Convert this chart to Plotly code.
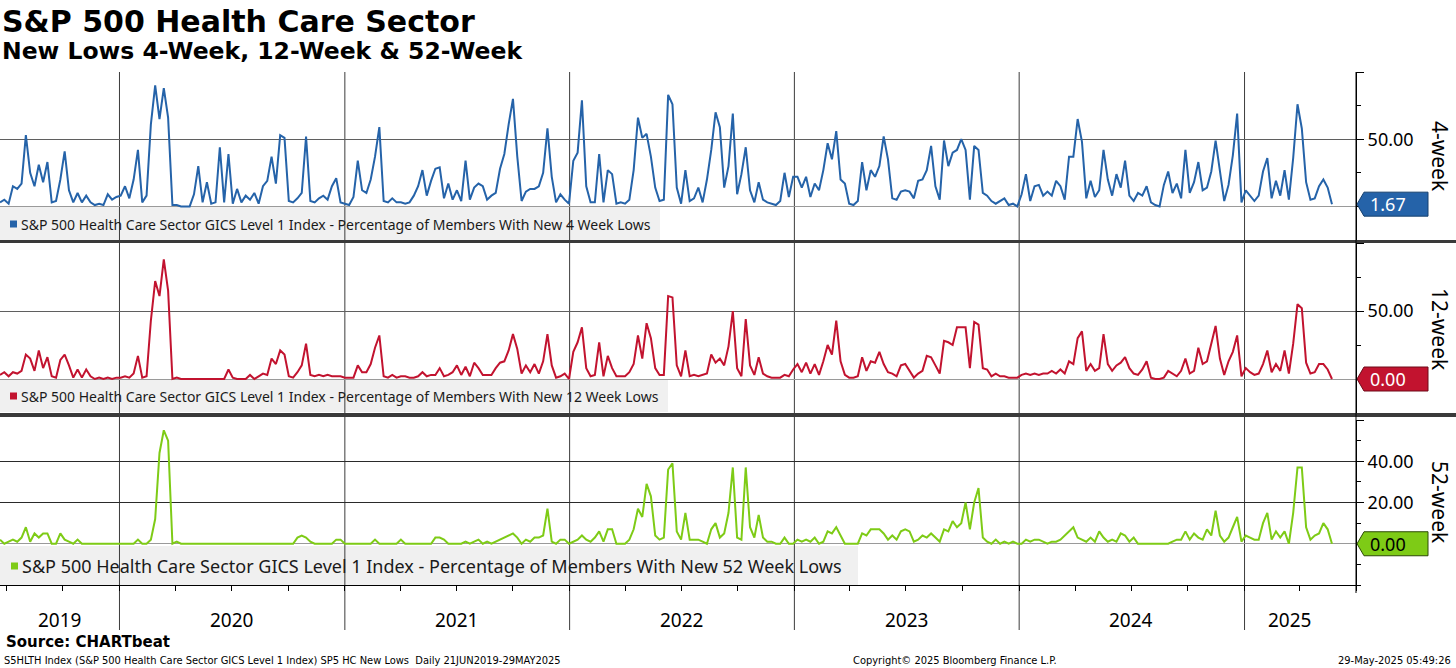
import pandas as pd
import plotly.graph_objects as go

W, H = 1456, 668

# ---------------- data ----------------
YEARS = ["2019", "2020", "2021", "2022", "2023", "2024", "2025"]
FIRST_WEEK = ["2019-06-21", "2020-01-03", "2021-01-01", "2022-01-07",
              "2023-01-06", "2024-01-05", "2025-01-03"]
YEAR_STARTS = ["2020-01-01", "2021-01-01", "2022-01-01", "2023-01-01",
               "2024-01-01", "2025-01-01"]
YEAR_LABEL_AT = ["2019-09-25", "2020-07-01", "2021-07-02", "2022-07-02",
                 "2023-07-02", "2024-07-01", "2025-03-15"]
X_RANGE = ["2019-06-21", "2025-07-01"]

# 4-week new lows (% of members), weekly readings
w4_2019 = [3, 5, 2, 15, 13, 17, 53, 25, 15, 31, 18, 33, 3, 4, 20, 41, 12, 3, 10, 3,
           8, 3, 1, 2, 1, 9, 5, 7]
w4_2020 = [8, 15, 6, 20, 42, 3, 8, 61, 90, 65, 88, 66, 1, 1, 0, 0, 0, 9, 30, 3,
           18, 2, 3, 44, 3, 39, 2, 13, 3, 8, 5, 10, 2, 15, 19, 37, 17, 53, 51, 4,
           3, 6, 10, 52, 4, 3, 6, 8, 5, 15, 21, 3]
w4_2021 = [2, 1, 7, 34, 12, 10, 20, 37, 59, 4, 3, 6, 3, 3, 2, 3, 8, 15, 27, 8,
           19, 28, 29, 6, 17, 5, 12, 4, 34, 5, 14, 17, 15, 5, 8, 10, 28, 39, 61, 80,
           37, 4, 11, 13, 13, 15, 25, 58, 22, 3, 9, 5, 2]
w4_2022 = [34, 40, 79, 15, 3, 3, 39, 3, 27, 24, 2, 3, 2, 5, 27, 66, 51, 54, 37, 14,
           4, 5, 83, 76, 14, 2, 27, 4, 6, 14, 3, 20, 42, 70, 59, 14, 30, 69, 9, 24,
           44, 12, 3, 18, 5, 3, 2, 1, 4, 25, 7, 22]
w4_2023 = [22, 14, 22, 7, 17, 12, 27, 47, 35, 56, 20, 17, 2, 1, 4, 33, 12, 27, 22, 30,
           52, 35, 6, 5, 11, 12, 11, 6, 19, 20, 27, 45, 15, 5, 49, 30, 40, 42, 50, 42,
           5, 45, 42, 10, 8, 4, 2, 4, 6, 1, 2, 0]
w4_2024 = [9, 24, 4, 15, 16, 8, 11, 8, 19, 15, 5, 37, 37, 65, 48, 6, 19, 7, 12, 42,
           20, 8, 24, 14, 34, 8, 4, 10, 8, 15, 3, 1, 0, 16, 26, 10, 17, 6, 42, 10,
           18, 33, 12, 14, 26, 49, 25, 4, 16, 38, 69, 3]
w4_2025 = [12, 8, 4, 8, 26, 36, 6, 19, 8, 27, 5, 36, 76, 58, 18, 5, 6, 15, 20, 14,
           1.67]

# 12-week new lows
w12_2019 = [3, 5, 2, 5, 4, 6, 18, 15, 6, 21, 8, 16, 2, 1, 14, 18, 10, 1, 7, 1,
            7, 2, 0, 1, 0, 1, 0, 1]
w12_2020 = [1, 2, 1, 4, 17, 1, 2, 43, 72, 61, 88, 65, 0, 1, 0, 0, 0, 0, 0, 0,
            0, 0, 0, 0, 0, 7, 1, 0, 0, 0, 3, 0, 2, 4, 3, 15, 11, 21, 18, 2,
            1, 5, 10, 26, 3, 2, 3, 2, 3, 2, 2, 2]
w12_2021 = [1, 1, 1, 10, 5, 5, 11, 23, 32, 2, 1, 3, 1, 2, 2, 1, 1, 2, 5, 2,
            3, 3, 8, 2, 3, 5, 10, 3, 9, 2, 12, 8, 3, 3, 3, 8, 12, 13, 21, 33,
            22, 4, 10, 5, 11, 4, 13, 33, 10, 1, 2, 4, 0]
w12_2022 = [20, 27, 38, 8, 2, 3, 27, 2, 17, 8, 2, 2, 2, 5, 11, 32, 15, 41, 30, 8,
            3, 3, 61, 60, 10, 2, 21, 2, 3, 2, 3, 4, 18, 12, 15, 10, 24, 50, 8, 2,
            44, 10, 3, 16, 4, 2, 1, 1, 1, 3, 2, 7]
w12_2023 = [11, 5, 12, 4, 11, 3, 13, 25, 18, 43, 13, 3, 1, 1, 2, 16, 6, 13, 12, 20,
            11, 5, 4, 2, 10, 11, 6, 1, 4, 6, 17, 16, 10, 4, 28, 27, 25, 38, 38, 38,
            8, 42, 40, 8, 7, 2, 4, 2, 2, 1, 1, 1]
w12_2024 = [3, 4, 3, 4, 3, 4, 4, 6, 4, 7, 4, 13, 11, 30, 35, 6, 11, 6, 8, 33,
            11, 6, 10, 12, 16, 8, 4, 3, 7, 13, 1, 0, 0, 1, 6, 4, 2, 6, 15, 4,
            6, 23, 11, 13, 26, 39, 15, 3, 13, 20, 32, 2]
w12_2025 = [8, 5, 3, 4, 11, 21, 5, 11, 6, 21, 4, 26, 55, 52, 12, 4, 5, 11, 11, 7,
            0]

# 52-week new lows
w52_2019 = [2, 0, 1, 2, 1, 3, 8, 1, 5, 3, 5, 5, 0, 0, 5, 2, 1, 0, 2, 0,
            0, 0, 0, 0, 0, 0, 0, 0]
w52_2020 = [0, 0, 0, 0, 2, 0, 0, 2, 12, 44, 55, 50, 0, 1, 0, 0, 0, 0, 0, 0,
            0, 0, 0, 0, 0, 0, 0, 0, 0, 0, 0, 0, 0, 0, 0, 0, 0, 0, 0, 0,
            0, 3, 4, 3, 1, 0, 0, 0, 0, 0, 2, 2]
w52_2021 = [0, 0, 0, 0, 0, 0, 0, 2, 0, 0, 0, 0, 0, 2, 0, 0, 0, 0, 0, 0,
            0, 3, 3, 2, 0, 0, 0, 0, 1, 0, 1, 2, 0, 1, 0, 1, 2, 3, 4, 5,
            3, 0, 2, 1, 3, 3, 4, 17, 1, 0, 2, 2, 0]
w52_2022 = [1, 2, 4, 2, 1, 3, 6, 1, 7, 7, 0, 0, 0, 2, 7, 17, 13, 29, 23, 4,
            2, 3, 36, 39, 6, 2, 15, 2, 2, 2, 1, 0, 7, 10, 3, 5, 15, 37, 3, 2,
            37, 8, 3, 14, 3, 1, 1, 0, 0, 3, 0, 0]
w52_2023 = [2, 1, 2, 1, 3, 0, 1, 6, 5, 8, 4, 0, 0, 0, 0, 5, 4, 7, 7, 7,
            5, 2, 4, 2, 6, 7, 6, 1, 2, 4, 3, 5, 3, 1, 7, 6, 11, 8, 10, 20,
            7, 20, 27, 3, 1, 0, 2, 0, 1, 0, 1, 0]
w52_2024 = [0, 2, 1, 2, 2, 1, 0, 1, 1, 2, 4, 6, 8, 3, 2, 1, 3, 1, 6, 3,
            1, 2, 1, 5, 4, 1, 3, 0, 0, 0, 0, 0, 0, 0, 0, 1, 2, 2, 6, 2,
            5, 3, 2, 7, 4, 16, 4, 1, 3, 8, 13, 1]
w52_2025 = [4, 3, 2, 2, 10, 15, 2, 6, 3, 6, 0, 15, 37, 37, 8, 2, 4, 5, 10, 7,
            0]

SERIES_4 = [w4_2019, w4_2020, w4_2021, w4_2022, w4_2023, w4_2024, w4_2025]
SERIES_12 = [w12_2019, w12_2020, w12_2021, w12_2022, w12_2023, w12_2024, w12_2025]
SERIES_52 = [w52_2019, w52_2020, w52_2021, w52_2022, w52_2023, w52_2024, w52_2025]

LEG_BASE = "S&P 500 Health Care Sector GICS Level 1 Index - Percentage of Members With New {} Week Lows"

BLUE = "#2563a9"
RED = "#c2132f"
GREEN = "#7ecb16"


def weekly(chunks):
    xs, ys = [], []
    for start, vals in zip(FIRST_WEEK, chunks):
        xs += list(pd.date_range(start, periods=len(vals), freq="7D"))
        ys += list(vals)
    return xs, ys


def pxx(x):
    return x / W


def pxy(y):
    return 1 - y / H


XR = 1356  # right edge of plotting area (px)

panels = [
    dict(chunks=SERIES_4, color=BLUE, border="#16406e", txt="white", ax="y",
         top=72, bot=240, rng=[-25, 100], major=[50, 100], minor=[-25, 0, 25, 75],
         leg=LEG_BASE.format(4), leg_y=224, box=(207, 240, 660), leg_size=14,
         sq=(10, 17), txt_x=19, title="4-week", title_y=156, grid="#5f5f5f"),
    dict(chunks=SERIES_12, color=RED, border="#6e0a18", txt="white", ax="y2",
         top=243, bot=413, rng=[-25, 100], major=[50, 100], minor=[-25, 0, 25, 75],
         leg=LEG_BASE.format(12), leg_y=396, box=(380, 412, 668), leg_size=14,
         sq=(10, 17), txt_x=19, title="12-week", title_y=329, grid="#5f5f5f"),
    dict(chunks=SERIES_52, color=GREEN, border="#2c4a06", txt="black", ax="y3",
         top=420, bot=585, rng=[-20, 60], major=[20, 40, 60],
         minor=[-20, -10, 0, 10, 30, 50],
         leg=LEG_BASE.format(52), leg_y=566, box=(546, 585, 858), leg_size=18,
         sq=(11, 18), txt_x=20, title="52-week", title_y=502, grid="#2a2a2a"),
]

fig = go.Figure()
shapes = []
annotations = []

# legend boxes (below everything)
for p in panels:
    t, b, r = p["box"]
    shapes.append(dict(type="rect", xref="paper", yref="paper", x0=0, x1=pxx(r),
                       y0=pxy(b), y1=pxy(t), fillcolor="#f0f0f0",
                       line=dict(width=0), layer="below"))

# year dividers
for ys in YEAR_STARTS:
    shapes.append(dict(type="line", xref="x", yref="paper", x0=ys, x1=ys,
                       y0=pxy(630), y1=pxy(72), line=dict(color="#3c3c3c", width=1),
                       layer="below"))

for i, p in enumerate(panels):
    xs, ys = weekly(p["chunks"])
    fig.add_trace(go.Scatter(x=xs, y=ys, mode="lines", yaxis=p["ax"], xaxis="x",
                             line=dict(color=p["color"], width=2), showlegend=False,
                             hoverinfo="x+y"))
    last = ys[-1]
    # value tag
    shapes.append(dict(type="path", xref="paper", yref=p["ax"],
                       xsizemode="pixel", ysizemode="pixel",
                       xanchor=pxx(XR), yanchor=last,
                       path="M1,0 L8,12 L72,12 L72,-12 L8,-12 Z",
                       fillcolor=p["color"], line=dict(color=p["border"], width=1),
                       layer="above"))
    annotations.append(dict(xref="paper", yref=p["ax"], x=pxx(1368), y=last,
                            xanchor="left", yanchor="middle", showarrow=False,
                            text=f"{last:.2f}",
                            font=dict(family="Noto Sans", size=18, color=p["txt"])))
    # legend marker square + label
    s0, s1 = p["sq"]
    half = (s1 - s0) / 2
    shapes.append(dict(type="rect", xref="paper", yref="paper",
                       x0=pxx(s0), x1=pxx(s1),
                       y0=pxy(p["leg_y"] + half), y1=pxy(p["leg_y"] - half),
                       fillcolor=p["color"], line=dict(width=0), layer="above"))
    annotations.append(dict(xref="paper", yref="paper", x=pxx(p["txt_x"]),
                            y=pxy(p["leg_y"]),
                            xanchor="left", yanchor="middle", showarrow=False,
                            text=p["leg"],
                            font=dict(family="Noto Sans", size=p["leg_size"],
                                      color="#1a1a1a")))
    # side title
    annotations.append(dict(xref="paper", yref="paper", x=pxx(1440), y=pxy(p["title_y"]),
                            xanchor="center", yanchor="middle", showarrow=False,
                            textangle=90, text=p["title"],
                            font=dict(family="Noto Sans", size=21, color="black")))

# separators between panels
shapes.append(dict(type="line", xref="paper", yref="paper", x0=0, x1=1,
                   y0=pxy(241.5), y1=pxy(241.5), line=dict(color="#3a3a3a", width=3),
                   layer="above"))
shapes.append(dict(type="line", xref="paper", yref="paper", x0=0, x1=1,
                   y0=pxy(415), y1=pxy(415), line=dict(color="#3a3a3a", width=4),
                   layer="above"))
# continuous right axis line
shapes.append(dict(type="line", xref="paper", yref="paper", x0=pxx(XR), x1=pxx(XR),
                   y0=pxy(593), y1=pxy(72), line=dict(color="black", width=1),
                   layer="above"))

# year labels
for yr, at in zip(YEARS, YEAR_LABEL_AT):
    annotations.append(dict(xref="x", yref="paper", x=at, y=pxy(620),
                            xanchor="center", yanchor="middle", showarrow=False,
                            text=yr, font=dict(family="Noto Sans", size=19,
                                               color="black")))

# titles
annotations.append(dict(xref="paper", yref="paper", x=0, y=pxy(21), xanchor="left",
                        yanchor="middle", showarrow=False,
                        text="<b>S&P 500 Health Care Sector</b>",
                        font=dict(family="DejaVu Sans", size=30, color="black")))
annotations.append(dict(xref="paper", yref="paper", x=0, y=pxy(51), xanchor="left",
                        yanchor="middle", showarrow=False,
                        text="<b>New Lows 4-Week, 12-Week & 52-Week</b>",
                        font=dict(family="DejaVu Sans", size=23.5, color="black")))
# footer
annotations.append(dict(xref="paper", yref="paper", x=pxx(4), y=pxy(642),
                        xanchor="left", yanchor="middle", showarrow=False,
                        text="<b>Source: CHARTbeat</b>",
                        font=dict(family="DejaVu Sans", size=15, color="black")))
small = dict(family="DejaVu Sans Condensed, Liberation Sans Narrow, DejaVu Sans",
             size=11, color="black")
annotations.append(dict(xref="paper", yref="paper", x=pxx(2), y=pxy(660),
                        xanchor="left", yanchor="middle", showarrow=False,
                        text="S5HLTH Index (S&P 500 Health Care Sector GICS Level 1 Index) SP5 HC New Lows  Daily 21JUN2019-29MAY2025",
                        font=small))
annotations.append(dict(xref="paper", yref="paper", x=pxx(851), y=pxy(660),
                        xanchor="left", yanchor="middle", showarrow=False,
                        text="Copyright© 2025 Bloomberg Finance L.P.", font=small))
annotations.append(dict(xref="paper", yref="paper", x=pxx(1453), y=pxy(660),
                        xanchor="right", yanchor="middle", showarrow=False,
                        text="29-May-2025 05:49:26", font=small))

layout = dict(
    width=W, height=H,
    margin=dict(l=0, r=0, t=0, b=0),
    paper_bgcolor="white", plot_bgcolor="rgba(0,0,0,0)",
    showlegend=False,
    shapes=shapes, annotations=annotations,
    xaxis=dict(domain=[0, pxx(XR)], range=X_RANGE, type="date", anchor="y3",
               showgrid=False, zeroline=False, showline=True, linecolor="black",
               linewidth=1, ticks="outside", ticklen=5, tickcolor="black",
               dtick="M3", tick0="2019-01-01", showticklabels=False),
)
for i, p in enumerate(panels):
    key = "yaxis" if i == 0 else f"yaxis{i + 1}"
    labels = [f"{v:.2f}" if v < p["rng"][1] else "" for v in p["major"]]
    layout[key] = dict(
        domain=[pxy(p["bot"]), pxy(p["top"])], range=p["rng"], anchor="x",
        side="right", tickmode="array", tickvals=p["major"], ticktext=labels,
        ticks="outside", ticklen=7, tickcolor="black", showline=True,
        linecolor="black", showgrid=True, gridcolor=p["grid"], gridwidth=1,
        zeroline=True, zerolinecolor="#9a9a9a", zerolinewidth=1,
        tickfont=dict(family="Noto Sans", size=18, color="black"),
        minor=dict(tickmode="array", tickvals=p["minor"], ticks="outside",
                   ticklen=4, tickcolor="black", showgrid=False),
    )

fig.update_layout(**layout)
fig.write_html("out.html", config={"displayModeBar": False},
               post_script="document.body.style.margin='0';document.body.style.overflow='hidden';")
